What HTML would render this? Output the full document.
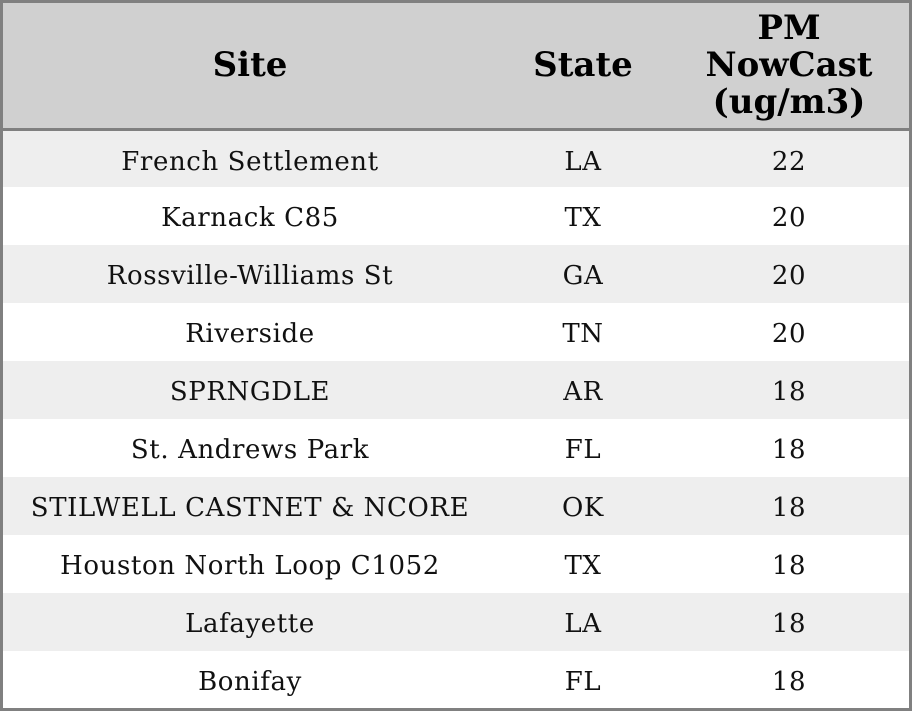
<!DOCTYPE html>
<html><head><style>
html,body{margin:0;padding:0;background:#fff;}
.w{position:absolute;left:0;top:0;width:906px;height:705px;border:3px solid #808080;overflow:hidden;font-family:"DejaVu Serif",serif;}
.h{position:absolute;left:0;top:0;width:906px;height:125px;background:#d0d0d0;border-bottom:3px solid #808080;}
.c{position:absolute;text-align:center;display:flex;align-items:center;justify-content:center;white-space:nowrap;}
.hd{font-weight:bold;font-size:34px;line-height:37px;color:#000;height:125px;top:0;}
.r{position:absolute;left:0;width:906px;height:58px;}
.r .c{height:58px;top:2px;font-size:26px;letter-spacing:0.6px;color:#111;}
.a{left:0;width:494px;}.b{left:497px;width:166px;}.p{left:663px;width:246px;}
</style></head><body><div class="w">
<div class="h"><div class="c hd a">Site</div><div class="c hd b">State</div><div class="c hd p">PM<br>NowCast<br>(ug/m3)</div></div>
<div class="r" style="top:128px;height:56px;background:#eee"><div class="c a">French Settlement</div><div class="c b">LA</div><div class="c p">22</div></div>
<div class="r" style="top:184px"><div class="c a">Karnack C85</div><div class="c b">TX</div><div class="c p">20</div></div>
<div class="r" style="top:242px;background:#eee"><div class="c a">Rossville-Williams St</div><div class="c b">GA</div><div class="c p">20</div></div>
<div class="r" style="top:300px"><div class="c a">Riverside</div><div class="c b">TN</div><div class="c p">20</div></div>
<div class="r" style="top:358px;background:#eee"><div class="c a">SPRNGDLE</div><div class="c b">AR</div><div class="c p">18</div></div>
<div class="r" style="top:416px"><div class="c a">St. Andrews Park</div><div class="c b">FL</div><div class="c p">18</div></div>
<div class="r" style="top:474px;background:#eee"><div class="c a">STILWELL CASTNET &amp; NCORE</div><div class="c b">OK</div><div class="c p">18</div></div>
<div class="r" style="top:532px"><div class="c a">Houston North Loop C1052</div><div class="c b">TX</div><div class="c p">18</div></div>
<div class="r" style="top:590px;background:#eee"><div class="c a">Lafayette</div><div class="c b">LA</div><div class="c p">18</div></div>
<div class="r" style="top:648px"><div class="c a">Bonifay</div><div class="c b">FL</div><div class="c p">18</div></div>
</div></body></html>
